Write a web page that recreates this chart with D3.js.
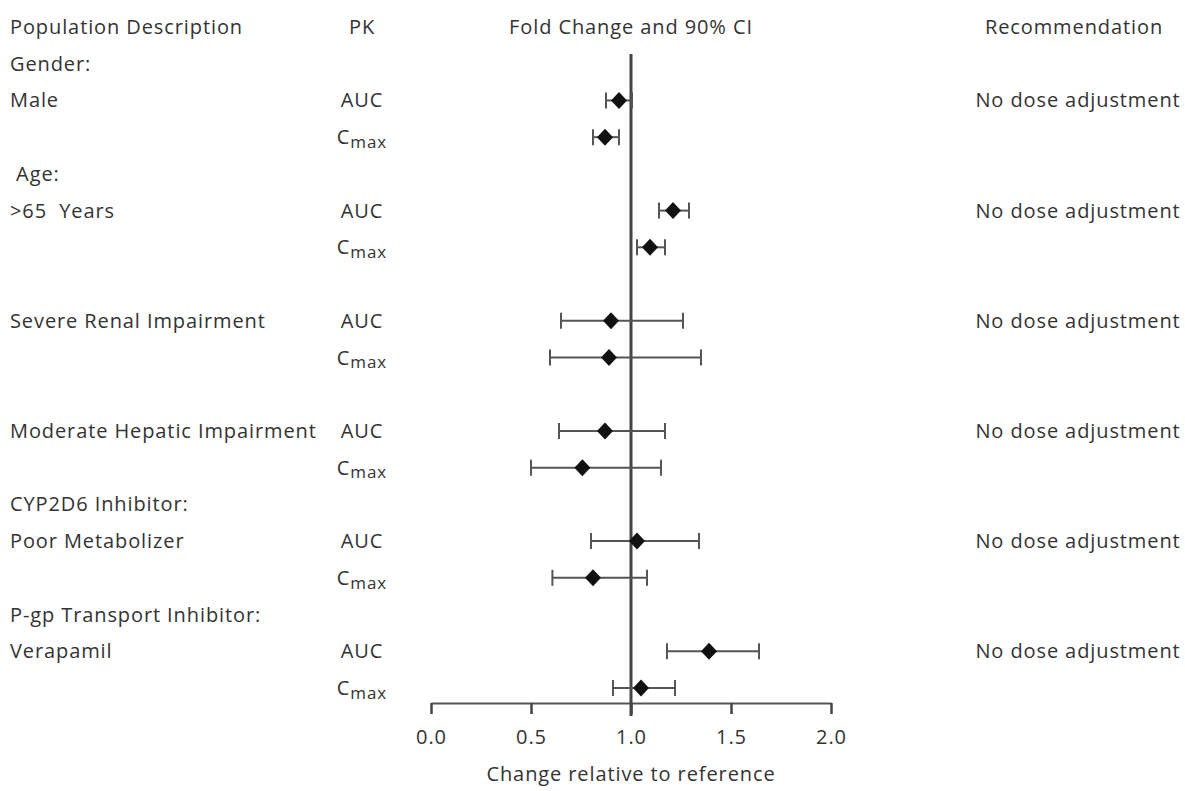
<!DOCTYPE html>
<html>
<head>
<meta charset="utf-8">
<script src="https://cdn.jsdelivr.net/npm/d3@7"></script>
<style>
  body { margin: 0; background: #fff; }
  svg text { font-family: "Open Sans", "Noto Sans", sans-serif; fill: #333; letter-spacing: 0.9px; }
</style>
</head>
<body>
<svg id="chart" width="1185" height="791"></svg>
<script>
"use strict";

// data
const headers = ["Gender:", " Age:", "", "", "CYP2D6 Inhibitor:", "P-gp Transport Inhibitor:"];
const populations = ["Male", ">65\u00a0 Years", "Severe Renal Impairment", "Moderate Hepatic Impairment", "Poor Metabolizer", "Verapamil"];
const auc_est = [0.94, 1.21, 0.90, 0.87, 1.03, 1.39];
const auc_low = [0.875, 1.14, 0.65, 0.64, 0.80, 1.18];
const auc_high = [1.005, 1.29, 1.26, 1.17, 1.34, 1.64];
const cmax_est = [0.87, 1.095, 0.89, 0.757, 0.81, 1.05];
const cmax_low = [0.81, 1.03, 0.595, 0.50, 0.607, 0.91];
const cmax_high = [0.94, 1.17, 1.35, 1.15, 1.08, 1.22];
const recommendations = ["No dose adjustment", "No dose adjustment", "No dose adjustment", "No dose adjustment", "No dose adjustment", "No dose adjustment"];
const x_ticks = [0, 0.5, 1, 1.5, 2];

const font_size = 20;
const svg = d3.select("#chart");

// 19 text rows: column titles, then per group a header, AUC and Cmax row
const n_rows = 1 + 3 * populations.length;
const y_scale = d3.scalePoint().domain(d3.range(n_rows)).range([27, 688]);
const x_scale = d3.scaleLinear().domain([0, 2]).range([431, 831]);

const axis_y = 703;

// column titles
const titles = [
  { t: "Population Description", x: 10, a: "start" },
  { t: "PK", x: 362, a: "middle" },
  { t: "Fold Change and 90% CI", x: 631, a: "middle" },
  { t: "Recommendation", x: 1074, a: "middle" }
];
svg.selectAll(".title").data(titles).enter().append("text")
  .attr("class", "title")
  .attr("x", d => d.x).attr("y", y_scale(0)).attr("dy", "0.35em")
  .attr("text-anchor", d => d.a)
  .style("font-size", font_size + "px")
  .text(d => d.t);

// rows as records
const recs = populations.map((p, i) => ({
  header: headers[i], pop: p, rec: recommendations[i],
  row: 1 + 3 * i,
  pk: [
    { name: "AUC", est: auc_est[i], low: auc_low[i], high: auc_high[i], row: 2 + 3 * i },
    { name: "Cmax", est: cmax_est[i], low: cmax_low[i], high: cmax_high[i], row: 3 + 3 * i }
  ]
}));

svg.selectAll(".hdr").data(recs.filter(d => d.header !== "")).enter().append("text")
  .attr("class", "hdr")
  .attr("x", 10).attr("y", d => y_scale(d.row)).attr("dy", "0.35em")
  .style("font-size", font_size + "px")
  .style("white-space", "pre")
  .text(d => d.header);

svg.selectAll(".pop").data(recs).enter().append("text")
  .attr("class", "pop")
  .attr("x", 10).attr("y", d => y_scale(d.row + 1)).attr("dy", "0.35em")
  .style("font-size", font_size + "px")
  .text(d => d.pop);

svg.selectAll(".rec").data(recs).enter().append("text")
  .attr("class", "rec")
  .attr("x", 1078).attr("y", d => y_scale(d.row + 1)).attr("dy", "0.35em")
  .attr("text-anchor", "middle")
  .style("font-size", font_size + "px")
  .text(d => d.rec);

const pk_rows = recs.flatMap(d => d.pk);

// PK labels, Cmax with subscript
const pk_text = svg.selectAll(".pk").data(pk_rows).enter().append("text")
  .attr("class", "pk")
  .attr("x", 362).attr("y", d => y_scale(d.row)).attr("dy", "0.35em")
  .attr("text-anchor", "middle")
  .style("font-size", font_size + "px");
pk_text.filter(d => d.name === "AUC").text("AUC");
pk_text.filter(d => d.name === "Cmax").each(function () {
  const t = d3.select(this);
  t.append("tspan").text("C");
  t.append("tspan").attr("dy", "0.22em").style("font-size", (font_size - 3) + "px").text("max");
});

// x axis
const x_axis = svg.append("g")
  .attr("transform", "translate(0," + axis_y + ")")
  .call(d3.axisBottom(x_scale).tickValues(x_ticks).tickFormat(d3.format(".1f")).tickSize(11).tickSizeOuter(0));
x_axis.select(".domain").attr("stroke", "#555").attr("stroke-width", 2);
x_axis.selectAll(".tick line").attr("stroke", "#444").attr("stroke-width", 2.5);
x_axis.selectAll(".tick text")
  .attr("y", 27)
  .style("font-size", font_size + "px")
  .style("font-family", "'Open Sans', sans-serif")
  .attr("fill", "#333");

svg.append("text")
  .attr("x", x_scale(1)).attr("y", 781)
  .attr("text-anchor", "middle")
  .style("font-size", font_size + "px")
  .text("Change relative to reference");

// reference line at 1.0
svg.append("line")
  .attr("x1", x_scale(1)).attr("x2", x_scale(1))
  .attr("y1", 54).attr("y2", axis_y + 13)
  .attr("stroke", "#444").attr("stroke-width", 3);

// error bars
const cap = 8;
const bars = svg.append("g").selectAll("g").data(pk_rows).enter().append("g")
  .attr("stroke", "#555").attr("stroke-width", 2);
bars.append("line")
  .attr("x1", d => x_scale(d.low)).attr("x2", d => x_scale(d.high))
  .attr("y1", d => y_scale(d.row)).attr("y2", d => y_scale(d.row));
bars.append("line")
  .attr("x1", d => x_scale(d.low)).attr("x2", d => x_scale(d.low))
  .attr("y1", d => y_scale(d.row) - cap).attr("y2", d => y_scale(d.row) + cap);
bars.append("line")
  .attr("x1", d => x_scale(d.high)).attr("x2", d => x_scale(d.high))
  .attr("y1", d => y_scale(d.row) - cap).attr("y2", d => y_scale(d.row) + cap);

// diamonds
const dw = 8, dh = 8.5;
svg.append("g").selectAll("path").data(pk_rows).enter().append("path")
  .attr("d", d => {
    const cx = x_scale(d.est), cy = y_scale(d.row);
    return "M" + cx + "," + (cy - dh) + "L" + (cx + dw) + "," + cy + "L" + cx + "," + (cy + dh) + "L" + (cx - dw) + "," + cy + "Z";
  })
  .attr("fill", "#111");
</script>
</body>
</html>
